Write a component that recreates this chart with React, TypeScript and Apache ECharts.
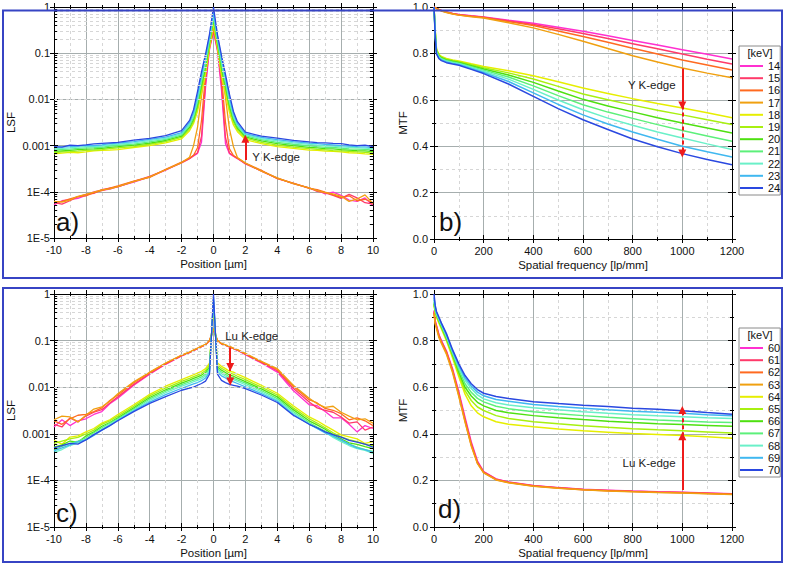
import { useEffect, useRef } from 'react';
import * as echarts from 'echarts';

// ---------- categories / energies ----------
const ENERGY_Y = ['14', '15', '16', '17', '18', '19', '20', '21', '22', '23', '24'];
const ENERGY_LU = ['60', '61', '62', '63', '64', '65', '66', '67', '68', '69', '70'];
const COLORS = ['#ff30d0', '#ff3a6a', '#ff6a20', '#f0a010', '#e6ee00', '#a8f010', '#4ee010', '#5cf07a', '#6af0c8', '#40b8f0', '#2a48e0'];

// ---------- LSF positions [µm] ----------
const LSF_X = [-10, -9.5, -9, -8.5, -8, -7.5, -7, -6.5, -6, -5, -4, -3, -2, -1.5, -1.25, -1, -0.75, -0.5, -0.25, 0, 0.25, 0.5, 0.75, 1, 1.25, 1.5, 2, 3, 4, 5, 6, 6.5, 7, 7.5, 8, 8.5, 9, 9.5, 10];

// ---------- panel a: LSF, Y K-edge ----------
const a14 = [5.2e-5, 6.4e-5, 6.8e-5, 7.2e-5, 8.4e-5, 1.0e-4, 1.08e-4, 1.14e-4, 1.3e-4, 1.62e-4, 2.1e-4, 2.95e-4, 4.3e-4, 5.3e-4, 6.0e-4, 6.8e-4, 1.2e-3, 0.018, 0.12, 0.3, 0.11, 0.016, 1.1e-3, 6.7e-4, 5.9e-4, 5.2e-4, 4.1e-4, 2.8e-4, 1.95e-4, 1.52e-4, 1.2e-4, 1.08e-4, 9.0e-5, 9.8e-5, 8.4e-5, 6.6e-5, 6.2e-5, 7.4e-5, 5.0e-5];
const a15 = [5.8e-5, 5.4e-5, 6.4e-5, 7.8e-5, 8.8e-5, 9.2e-5, 1.12e-4, 1.2e-4, 1.28e-4, 1.68e-4, 2.15e-4, 3.0e-4, 4.2e-4, 5.2e-4, 6.1e-4, 7.0e-4, 1.6e-3, 0.024, 0.13, 0.3, 0.12, 0.022, 1.5e-3, 6.9e-4, 6.0e-4, 5.3e-4, 4.0e-4, 2.85e-4, 1.98e-4, 1.5e-4, 1.22e-4, 1.02e-4, 9.5e-5, 8.4e-5, 7.2e-5, 8.8e-5, 7.4e-5, 5.8e-5, 5.4e-5];
const a16 = [6.0e-5, 6.2e-5, 7.0e-5, 7.9e-5, 8.2e-5, 9.6e-5, 1.06e-4, 1.2e-4, 1.34e-4, 1.7e-4, 2.05e-4, 3.05e-4, 4.4e-4, 5.4e-4, 6.2e-4, 9.0e-4, 3.5e-3, 0.035, 0.14, 0.32, 0.14, 0.033, 3.2e-3, 8.5e-4, 6.1e-4, 5.4e-4, 4.2e-4, 2.9e-4, 1.92e-4, 1.55e-4, 1.18e-4, 1.12e-4, 9.8e-5, 8.6e-5, 7.6e-5, 8.2e-5, 6.4e-5, 6.9e-5, 5.8e-5];
const a17 = [6.2e-5, 6.0e-5, 6.6e-5, 8.0e-5, 8.8e-5, 9.8e-5, 1.1e-4, 1.16e-4, 1.3e-4, 1.66e-4, 2.1e-4, 3.0e-4, 4.3e-4, 5.6e-4, 1.0e-3, 2.5e-3, 0.012, 0.05, 0.16, 0.35, 0.15, 0.048, 0.011, 2.3e-3, 9.5e-4, 5.5e-4, 4.2e-4, 2.8e-4, 2.0e-4, 1.5e-4, 1.22e-4, 1.06e-4, 9.6e-5, 9.0e-5, 8.0e-5, 6.2e-5, 7.0e-5, 8.6e-5, 5.6e-5];
const a18 = [6.6e-4, 6.9e-4, 7.1e-4, 7.0e-4, 7.3e-4, 7.7e-4, 7.9e-4, 8.0e-4, 8.2e-4, 9.1e-4, 1.0e-3, 1.15e-3, 1.4e-3, 2.1e-3, 3.0e-3, 5.5e-3, 0.014, 0.035, 0.13, 0.45, 0.13, 0.033, 0.013, 5.2e-3, 2.8e-3, 2.0e-3, 1.35e-3, 1.1e-3, 9.5e-4, 8.7e-4, 8.0e-4, 7.9e-4, 7.6e-4, 7.5e-4, 7.3e-4, 7.0e-4, 6.9e-4, 6.6e-4, 6.5e-4];
const a19 = [7.0e-4, 7.3e-4, 7.4e-4, 7.6e-4, 7.9e-4, 8.0e-4, 8.2e-4, 8.6e-4, 8.9e-4, 9.5e-4, 1.07e-3, 1.22e-3, 1.5e-3, 2.3e-3, 3.3e-3, 6.5e-3, 0.017, 0.042, 0.15, 0.5, 0.15, 0.04, 0.016, 6.2e-3, 3.2e-3, 2.2e-3, 1.45e-3, 1.18e-3, 1.02e-3, 9.3e-4, 8.6e-4, 8.3e-4, 8.1e-4, 7.8e-4, 7.7e-4, 7.5e-4, 7.3e-4, 7.1e-4, 6.9e-4];
const a20 = [7.5e-4, 7.7e-4, 7.9e-4, 8.2e-4, 8.4e-4, 8.5e-4, 8.7e-4, 9.2e-4, 9.5e-4, 1.02e-3, 1.13e-3, 1.29e-3, 1.6e-3, 2.5e-3, 3.7e-3, 7.5e-3, 0.02, 0.05, 0.17, 0.55, 0.17, 0.048, 0.019, 7.2e-3, 3.6e-3, 2.4e-3, 1.55e-3, 1.26e-3, 1.1e-3, 1.0e-3, 9.2e-4, 8.9e-4, 8.6e-4, 8.5e-4, 8.2e-4, 8.0e-4, 7.8e-4, 7.7e-4, 7.4e-4];
const a21 = [8.0e-4, 8.3e-4, 8.4e-4, 8.7e-4, 8.9e-4, 9.0e-4, 9.2e-4, 9.8e-4, 1.01e-3, 1.08e-3, 1.2e-3, 1.36e-3, 1.7e-3, 2.7e-3, 4.1e-3, 8.8e-3, 0.024, 0.06, 0.19, 0.6, 0.19, 0.057, 0.022, 8.4e-3, 4.0e-3, 2.6e-3, 1.65e-3, 1.34e-3, 1.18e-3, 1.07e-3, 9.9e-4, 9.5e-4, 9.2e-4, 9.1e-4, 8.8e-4, 8.5e-4, 8.4e-4, 8.3e-4, 8.0e-4];
const a22 = [8.5e-4, 8.7e-4, 8.9e-4, 9.3e-4, 9.5e-4, 9.5e-4, 9.8e-4, 1.04e-3, 1.07e-3, 1.15e-3, 1.28e-3, 1.44e-3, 1.8e-3, 2.9e-3, 4.6e-3, 0.01, 0.028, 0.07, 0.21, 0.66, 0.21, 0.067, 0.026, 9.6e-3, 4.4e-3, 2.8e-3, 1.72e-3, 1.42e-3, 1.26e-3, 1.14e-3, 1.06e-3, 1.02e-3, 9.9e-4, 9.7e-4, 9.4e-4, 9.2e-4, 9.0e-4, 8.8e-4, 8.6e-4];
const a23 = [9.0e-4, 9.4e-4, 9.5e-4, 9.8e-4, 1.01e-3, 1.0e-3, 1.04e-3, 1.1e-3, 1.13e-3, 1.22e-3, 1.36e-3, 1.52e-3, 1.9e-3, 3.2e-3, 5.2e-3, 0.012, 0.033, 0.08, 0.23, 0.74, 0.23, 0.077, 0.03, 0.011, 4.9e-3, 3.0e-3, 1.82e-3, 1.5e-3, 1.35e-3, 1.22e-3, 1.13e-3, 1.1e-3, 1.06e-3, 1.04e-3, 1.0e-3, 9.8e-4, 9.5e-4, 9.4e-4, 9.1e-4];
const a24 = [9.5e-4, 9.3e-4, 1.02e-3, 1.0e-3, 1.04e-3, 1.09e-3, 1.12e-3, 1.15e-3, 1.18e-3, 1.32e-3, 1.44e-3, 1.64e-3, 2.1e-3, 3.5e-3, 6.0e-3, 0.015, 0.04, 0.095, 0.26, 1.0, 0.25, 0.09, 0.035, 0.013, 5.5e-3, 3.3e-3, 1.95e-3, 1.6e-3, 1.45e-3, 1.3e-3, 1.2e-3, 1.16e-3, 1.15e-3, 1.12e-3, 1.1e-3, 1.04e-3, 1.0e-3, 1.02e-3, 9.5e-4];

// ---------- panel c: LSF, Lu K-edge ----------
const c60 = [1.4e-3, 2.0e-3, 1.5e-3, 1.9e-3, 2.1e-3, 2.6e-3, 3.0e-3, 4.4e-3, 5.8e-3, 0.011, 0.019, 0.031, 0.047, 0.055, 0.061, 0.067, 0.074, 0.081, 0.098, 0.17, 0.098, 0.085, 0.079, 0.073, 0.067, 0.062, 0.05, 0.033, 0.021, 8.5e-3, 4.2e-3, 4.0e-3, 3.0e-3, 2.2e-3, 2.2e-3, 1.6e-3, 1.1e-3, 1.5e-3, 1.3e-3];
const c61 = [1.6e-3, 1.4e-3, 2.2e-3, 1.8e-3, 2.4e-3, 2.9e-3, 3.3e-3, 4.6e-3, 6.2e-3, 0.0115, 0.0195, 0.0315, 0.0475, 0.0555, 0.0615, 0.0675, 0.0745, 0.0815, 0.099, 0.17, 0.099, 0.0855, 0.0795, 0.0735, 0.0675, 0.0625, 0.051, 0.034, 0.0225, 9.5e-3, 4.8e-3, 3.6e-3, 3.2e-3, 2.9e-3, 2.3e-3, 1.7e-3, 1.8e-3, 1.2e-3, 1.4e-3];
const c62 = [1.9e-3, 1.6e-3, 2.1e-3, 2.5e-3, 2.6e-3, 3.0e-3, 3.6e-3, 5.2e-3, 6.8e-3, 0.0125, 0.0205, 0.0325, 0.048, 0.056, 0.062, 0.068, 0.075, 0.082, 0.1, 0.18, 0.1, 0.086, 0.08, 0.074, 0.068, 0.063, 0.052, 0.035, 0.024, 0.0105, 5.4e-3, 4.6e-3, 3.5e-3, 3.2e-3, 2.7e-3, 2.0e-3, 2.2e-3, 1.9e-3, 1.5e-3];
const c63 = [2.0e-3, 2.4e-3, 2.3e-3, 1.8e-3, 2.5e-3, 3.4e-3, 3.8e-3, 5.0e-3, 7.2e-3, 0.013, 0.021, 0.033, 0.049, 0.057, 0.063, 0.069, 0.076, 0.083, 0.101, 0.18, 0.101, 0.087, 0.081, 0.075, 0.069, 0.064, 0.053, 0.036, 0.025, 0.011, 5.8e-3, 4.4e-3, 3.7e-3, 3.9e-3, 2.9e-3, 2.4e-3, 2.0e-3, 2.1e-3, 1.7e-3];
const c64 = [7.2e-4, 6.0e-4, 8.5e-4, 9.0e-4, 1.1e-3, 1.3e-3, 1.7e-3, 2.0e-3, 2.6e-3, 4.2e-3, 7.0e-3, 0.0105, 0.0145, 0.017, 0.0185, 0.02, 0.022, 0.025, 0.033, 0.55, 0.033, 0.028, 0.025, 0.022, 0.021, 0.019, 0.016, 0.011, 7.4e-3, 4.0e-3, 2.3e-3, 1.9e-3, 1.5e-3, 1.2e-3, 9.5e-4, 8.6e-4, 7.8e-4, 6.2e-4, 6.8e-4];
const c65 = [6.2e-4, 7.0e-4, 7.8e-4, 8.4e-4, 1.0e-3, 1.2e-3, 1.6e-3, 1.9e-3, 2.4e-3, 3.9e-3, 6.5e-3, 9.6e-3, 0.0133, 0.0155, 0.0168, 0.0182, 0.02, 0.0228, 0.03, 0.6, 0.03, 0.0255, 0.0228, 0.02, 0.019, 0.0172, 0.0145, 0.01, 6.8e-3, 3.6e-3, 2.1e-3, 1.7e-3, 1.35e-3, 1.05e-3, 8.6e-4, 7.5e-4, 6.8e-4, 5.9e-4, 5.6e-4];
const c66 = [5.2e-4, 5.8e-4, 7.0e-4, 6.6e-4, 9.0e-4, 1.1e-3, 1.45e-3, 1.75e-3, 2.2e-3, 3.6e-3, 6.0e-3, 8.8e-3, 0.0122, 0.0142, 0.0154, 0.0166, 0.0182, 0.0207, 0.027, 0.65, 0.027, 0.0232, 0.0207, 0.0182, 0.0172, 0.0157, 0.0132, 9.2e-3, 6.2e-3, 3.3e-3, 1.9e-3, 1.55e-3, 1.25e-3, 9.6e-4, 7.8e-4, 6.4e-4, 5.9e-4, 5.3e-4, 4.8e-4];
const c67 = [4.4e-4, 5.4e-4, 6.2e-4, 7.0e-4, 8.2e-4, 1.05e-3, 1.35e-3, 1.7e-3, 2.1e-3, 3.4e-3, 5.6e-3, 8.2e-3, 0.0113, 0.0131, 0.0142, 0.0152, 0.0166, 0.0189, 0.025, 0.7, 0.025, 0.0212, 0.0189, 0.0166, 0.0157, 0.0144, 0.0122, 8.5e-3, 5.7e-3, 3.0e-3, 1.75e-3, 1.4e-3, 1.15e-3, 8.8e-4, 7.2e-4, 6.0e-4, 5.2e-4, 4.6e-4, 4.2e-4];
const c68 = [4.0e-4, 4.6e-4, 5.6e-4, 6.4e-4, 7.6e-4, 9.6e-4, 1.25e-3, 1.6e-3, 2.0e-3, 3.2e-3, 5.2e-3, 7.6e-3, 0.0105, 0.0121, 0.0131, 0.014, 0.0153, 0.0174, 0.023, 0.75, 0.023, 0.0195, 0.0174, 0.0153, 0.0145, 0.0133, 0.0113, 7.9e-3, 5.3e-3, 2.8e-3, 1.65e-3, 1.3e-3, 1.08e-3, 8.4e-4, 6.8e-4, 5.6e-4, 4.8e-4, 4.4e-4, 3.8e-4];
const c69 = [4.3e-4, 5.0e-4, 5.8e-4, 6.8e-4, 7.4e-4, 9.2e-4, 1.2e-3, 1.5e-3, 1.95e-3, 3.1e-3, 4.8e-3, 6.9e-3, 9.5e-3, 0.011, 0.0118, 0.0126, 0.0138, 0.0157, 0.021, 0.85, 0.021, 0.0175, 0.0158, 0.0138, 0.013, 0.012, 0.0102, 7.3e-3, 5.0e-3, 2.6e-3, 1.6e-3, 1.3e-3, 1.05e-3, 9.0e-4, 7.4e-4, 6.0e-4, 5.0e-4, 4.6e-4, 4.0e-4];
const c70 = [5.0e-4, 5.6e-4, 6.2e-4, 6.0e-4, 7.4e-4, 9.6e-4, 1.2e-3, 1.5e-3, 1.9e-3, 3.0e-3, 4.5e-3, 6.3e-3, 8.6e-3, 9.5e-3, 0.01, 0.011, 0.012, 0.0135, 0.019, 1.0, 0.019, 0.014, 0.0125, 0.0115, 0.011, 0.0105, 9.3e-3, 6.8e-3, 4.7e-3, 2.5e-3, 1.6e-3, 1.35e-3, 1.1e-3, 9.6e-4, 8.5e-4, 7.2e-4, 6.6e-4, 6.0e-4, 5.2e-4];

// ---------- panel b: MTF, Y K-edge ----------
const MTF_B_X = [0, 5, 10, 20, 30, 50, 75, 100, 150, 200, 300, 400, 500, 600, 700, 800, 900, 1000, 1100, 1200];
const b14 = [1.0, 0.997, 0.994, 0.989, 0.985, 0.978, 0.972, 0.968, 0.962, 0.957, 0.943, 0.93, 0.913, 0.895, 0.876, 0.856, 0.836, 0.816, 0.796, 0.776];
const b15 = [1.0, 0.997, 0.994, 0.989, 0.985, 0.978, 0.972, 0.967, 0.961, 0.956, 0.94, 0.925, 0.906, 0.886, 0.864, 0.842, 0.82, 0.797, 0.775, 0.754];
const b16 = [1.0, 0.997, 0.993, 0.988, 0.984, 0.977, 0.971, 0.966, 0.96, 0.955, 0.937, 0.92, 0.897, 0.873, 0.848, 0.822, 0.797, 0.772, 0.75, 0.728];
const b17 = [1.0, 0.996, 0.993, 0.988, 0.983, 0.976, 0.97, 0.965, 0.958, 0.953, 0.932, 0.91, 0.882, 0.852, 0.821, 0.79, 0.763, 0.737, 0.715, 0.695];
const b18 = [1.0, 0.9, 0.82, 0.795, 0.787, 0.778, 0.772, 0.767, 0.755, 0.744, 0.725, 0.704, 0.678, 0.651, 0.627, 0.605, 0.584, 0.565, 0.544, 0.523];
const b19 = [1.0, 0.895, 0.815, 0.792, 0.784, 0.775, 0.769, 0.764, 0.751, 0.738, 0.716, 0.69, 0.658, 0.625, 0.6, 0.577, 0.555, 0.535, 0.514, 0.494];
const b20 = [1.0, 0.89, 0.812, 0.789, 0.781, 0.772, 0.766, 0.761, 0.747, 0.733, 0.707, 0.675, 0.638, 0.602, 0.573, 0.548, 0.523, 0.5, 0.478, 0.457];
const b21 = [1.0, 0.885, 0.808, 0.786, 0.778, 0.769, 0.763, 0.758, 0.743, 0.728, 0.698, 0.66, 0.618, 0.579, 0.547, 0.52, 0.493, 0.468, 0.444, 0.421];
const b22 = [1.0, 0.88, 0.805, 0.783, 0.775, 0.766, 0.76, 0.755, 0.739, 0.723, 0.689, 0.645, 0.599, 0.557, 0.521, 0.49, 0.461, 0.435, 0.41, 0.386];
const b23 = [1.0, 0.875, 0.801, 0.78, 0.772, 0.763, 0.757, 0.752, 0.735, 0.718, 0.679, 0.63, 0.58, 0.535, 0.496, 0.461, 0.43, 0.4, 0.376, 0.353];
const b24 = [1.0, 0.87, 0.798, 0.777, 0.769, 0.76, 0.754, 0.749, 0.731, 0.713, 0.668, 0.615, 0.562, 0.514, 0.472, 0.431, 0.398, 0.368, 0.343, 0.32];

// ---------- panel d: MTF, Lu K-edge ----------
const MTF_D_X = [0, 5, 10, 20, 30, 50, 75, 100, 125, 150, 175, 200, 250, 300, 400, 500, 600, 700, 800, 900, 1000, 1100, 1200];
const d60 = [0.93, 0.885, 0.865, 0.825, 0.8, 0.755, 0.678, 0.58, 0.47, 0.365, 0.283, 0.238, 0.206, 0.193, 0.178, 0.169, 0.162, 0.158, 0.154, 0.151, 0.149, 0.146, 0.143];
const d61 = [0.925, 0.88, 0.862, 0.822, 0.797, 0.752, 0.672, 0.572, 0.462, 0.358, 0.278, 0.236, 0.205, 0.192, 0.177, 0.168, 0.161, 0.157, 0.153, 0.15, 0.148, 0.145, 0.142];
const d62 = [0.92, 0.875, 0.858, 0.818, 0.793, 0.748, 0.668, 0.565, 0.455, 0.352, 0.274, 0.233, 0.203, 0.191, 0.176, 0.167, 0.16, 0.156, 0.152, 0.149, 0.147, 0.144, 0.141];
const d63 = [0.915, 0.87, 0.852, 0.812, 0.788, 0.742, 0.662, 0.56, 0.45, 0.348, 0.272, 0.232, 0.202, 0.19, 0.175, 0.166, 0.16, 0.155, 0.151, 0.148, 0.146, 0.143, 0.14];
const d64 = [0.95, 0.92, 0.9, 0.875, 0.85, 0.8, 0.725, 0.645, 0.57, 0.52, 0.49, 0.473, 0.452, 0.441, 0.43, 0.421, 0.413, 0.407, 0.401, 0.397, 0.393, 0.387, 0.381];
const d65 = [0.955, 0.925, 0.905, 0.88, 0.856, 0.806, 0.733, 0.655, 0.585, 0.543, 0.515, 0.5, 0.478, 0.466, 0.452, 0.443, 0.435, 0.428, 0.422, 0.417, 0.413, 0.408, 0.403];
const d66 = [0.96, 0.93, 0.91, 0.884, 0.86, 0.81, 0.74, 0.665, 0.6, 0.562, 0.535, 0.52, 0.5, 0.49, 0.478, 0.469, 0.461, 0.454, 0.448, 0.443, 0.44, 0.436, 0.432];
const d67 = [0.965, 0.935, 0.913, 0.888, 0.864, 0.815, 0.745, 0.675, 0.615, 0.578, 0.552, 0.537, 0.518, 0.508, 0.495, 0.486, 0.478, 0.471, 0.465, 0.459, 0.455, 0.451, 0.448];
const d68 = [0.975, 0.94, 0.917, 0.892, 0.868, 0.82, 0.75, 0.685, 0.63, 0.594, 0.567, 0.55, 0.533, 0.524, 0.512, 0.503, 0.495, 0.488, 0.482, 0.477, 0.473, 0.469, 0.466];
const d69 = [0.985, 0.945, 0.921, 0.896, 0.871, 0.825, 0.755, 0.692, 0.64, 0.605, 0.579, 0.563, 0.547, 0.54, 0.526, 0.517, 0.51, 0.503, 0.497, 0.492, 0.488, 0.482, 0.477];
const d70 = [1.0, 0.95, 0.925, 0.9, 0.875, 0.83, 0.76, 0.7, 0.65, 0.615, 0.59, 0.574, 0.56, 0.552, 0.538, 0.53, 0.523, 0.517, 0.51, 0.505, 0.499, 0.491, 0.484];

// ---------- tick labels ----------
const LOG_TICK_LABELS: Record<string, string> = { '0': '1', '-1': '0.1', '-2': '0.01', '-3': '0.001', '-4': '1E-4', '-5': '1E-5' };

const FONT = '"Liberation Sans", Arial, Helvetica, sans-serif';
const RED = '#ee1b1b';

const GRIDS = [
  { left: 54, top: 7, width: 319, height: 231 },
  { left: 434, top: 7, width: 298, height: 232 },
  { left: 54, top: 294, width: 319, height: 233 },
  { left: 434, top: 294, width: 298, height: 233 },
];

type AxisBase = { type: 'value' | 'log'; min: number; max: number; interval?: number; minorSplit?: number; name: string; fmt: (v: number) => string; nameGap: number; labelMargin: number };

function makeAxes(dim: 'x' | 'y', gridIndex: number, base: AxisBase) {
  const pos = dim === 'x' ? ['bottom', 'top'] : ['left', 'right'];
  const isLog = base.type === 'log';
  const mk = (position: string, inside: boolean, main: boolean) => {
    const ax: any = {
      type: base.type,
      gridIndex,
      position,
      min: base.min,
      max: base.max,
      axisLine: { show: true, onZero: false, lineStyle: { color: '#000', width: 1 } },
      axisTick: { show: true, inside, length: 4, lineStyle: { color: '#000', width: 1 } },
      minorTick: isLog ? { show: false } : { show: true, splitNumber: base.minorSplit, length: 2, lineStyle: { color: '#000', width: 1 } },
      axisLabel: main
        ? { show: true, formatter: base.fmt, fontSize: 11, fontFamily: FONT, color: '#111', margin: base.labelMargin }
        : { show: false },
      splitLine: { show: main, lineStyle: { color: '#a6aeae', width: 1 } },
      minorSplitLine: { show: main && !isLog, lineStyle: { color: '#d6d6d6', width: 1, type: [3, 3] } },
      silent: true,
    };
    if (isLog) {
      ax.logBase = 10;
      ax.splitNumber = 5;
    } else {
      ax.interval = base.interval;
    }
    if (main) {
      ax.name = base.name;
      ax.nameLocation = 'middle';
      ax.nameGap = base.nameGap;
      ax.nameTextStyle = { fontSize: 11.5, fontFamily: FONT, color: '#111' };
    }
    return ax;
  };
  return [mk(pos[0], false, true), mk(pos[0], true, false), mk(pos[1], false, false), mk(pos[1], true, false)];
}

const logFmt = (v: number) => LOG_TICK_LABELS[String(Math.round(Math.log10(v)))] ?? '';
const posFmt = (v: number) => String(Math.round(v));
const freqFmt = (v: number) => String(Math.round(v));
const mtfFmt = (v: number) => v.toFixed(1);

function curveSeries(panel: number, names: string[], xs: number[], ys: number[][], width: number) {
  return names.map((n, i) => ({
    name: n,
    type: 'line',
    xAxisIndex: 4 * panel,
    yAxisIndex: 4 * panel,
    data: xs.map((x, j) => [x, ys[i][j]]),
    showSymbol: false,
    symbol: 'none',
    z: 2,
    silent: true,
    lineStyle: { color: COLORS[i], width },
    itemStyle: { color: COLORS[i] },
    emphasis: { disabled: true },
  }));
}

function logMinorSeries(panel: number) {
  const levels: number[] = [];
  for (let d = -5; d < 0; d++) for (let k = 2; k <= 9; k++) levels.push(k * Math.pow(10, d));
  const tickStyle = { color: '#000', type: 'solid', width: 1 };
  const ticks: any[] = [];
  levels.forEach((v) => {
    ticks.push([{ coord: [-10, v], lineStyle: tickStyle }, { coord: [-9.8, v] }]);
    ticks.push([{ coord: [9.8, v], lineStyle: tickStyle }, { coord: [10, v] }]);
  });
  return {
    type: 'line',
    xAxisIndex: 4 * panel,
    yAxisIndex: 4 * panel,
    data: [],
    symbol: 'none',
    silent: true,
    z: 1,
    markLine: {
      silent: true,
      animation: false,
      symbol: ['none', 'none'],
      label: { show: false },
      emphasis: { disabled: true },
      lineStyle: { color: '#d6d6d6', type: [3, 3], width: 1 },
      data: [...levels.map((v) => ({ yAxis: v })), ...ticks],
    },
  };
}

function annotationSeries(panel: number, segments: { from: number[]; to: number[]; dashed: boolean }[], text: string, at: number[], side: 'left' | 'right') {
  return {
    type: 'line',
    xAxisIndex: 4 * panel,
    yAxisIndex: 4 * panel,
    data: [],
    symbol: 'none',
    silent: true,
    z: 6,
    markLine: {
      silent: true,
      animation: false,
      symbol: ['none', 'triangle'],
      symbolSize: 8,
      label: { show: false },
      emphasis: { disabled: true },
      lineStyle: { color: RED, width: 2, type: 'solid' },
      data: segments.map((s) => [
        { coord: s.from, lineStyle: { color: RED, width: 2, type: s.dashed ? [4, 3] : 'solid' }, itemStyle: { color: RED } },
        { coord: s.to },
      ]),
    },
    markPoint: {
      silent: true,
      animation: false,
      symbol: 'circle',
      symbolSize: 1,
      itemStyle: { color: 'rgba(0,0,0,0)' },
      label: { show: true, position: side, distance: 0, formatter: text, fontSize: 11.5, fontFamily: FONT, color: '#222' },
      data: [{ coord: at, value: 0 }],
    },
  };
}

function legendFor(names: string[], top: number) {
  return {
    data: names,
    orient: 'vertical',
    left: 739,
    top,
    icon: 'rect',
    itemWidth: 23,
    itemHeight: 2,
    itemGap: 0.2,
    padding: [14, 0, 1, 1],
    borderColor: '#8a8a8a',
    borderWidth: 1,
    backgroundColor: '#fff',
    selectedMode: false,
    textStyle: { fontSize: 11, lineHeight: 12, fontFamily: FONT, color: '#111' },
  };
}

function buildOption() {
  const posAxis: AxisBase = { type: 'value', min: -10, max: 10, interval: 2, minorSplit: 2, name: 'Position [µm]', fmt: posFmt, nameGap: 20, labelMargin: 6 };
  const lsfAxis: AxisBase = { type: 'log', min: 1e-5, max: 1, name: 'LSF', fmt: logFmt, nameGap: 37, labelMargin: 4 };
  const freqAxis: AxisBase = { type: 'value', min: 0, max: 1200, interval: 200, minorSplit: 2, name: 'Spatial frequency [lp/mm]', fmt: freqFmt, nameGap: 20, labelMargin: 6 };
  const mtfAxis: AxisBase = { type: 'value', min: 0, max: 1, interval: 0.2, minorSplit: 2, name: 'MTF', fmt: mtfFmt, nameGap: 23, labelMargin: 6 };

  const xAxis = [...makeAxes('x', 0, posAxis), ...makeAxes('x', 1, freqAxis), ...makeAxes('x', 2, posAxis), ...makeAxes('x', 3, freqAxis)];
  const yAxis = [...makeAxes('y', 0, lsfAxis), ...makeAxes('y', 1, mtfAxis), ...makeAxes('y', 2, lsfAxis), ...makeAxes('y', 3, mtfAxis)];

  const series: any[] = [
    logMinorSeries(0),
    logMinorSeries(2),
    ...curveSeries(0, ENERGY_Y.map((e) => `${e} keV LSF`), LSF_X, [a14, a15, a16, a17, a18, a19, a20, a21, a22, a23, a24], 1.3),
    ...curveSeries(1, ENERGY_Y, MTF_B_X, [b14, b15, b16, b17, b18, b19, b20, b21, b22, b23, b24], 1.5),
    ...curveSeries(2, ENERGY_LU.map((e) => `${e} keV LSF`), LSF_X, [c60, c61, c62, c63, c64, c65, c66, c67, c68, c69, c70], 1.3),
    ...curveSeries(3, ENERGY_LU, MTF_D_X, [d60, d61, d62, d63, d64, d65, d66, d67, d68, d69, d70], 1.5),
    annotationSeries(0, [{ from: [2, 4.9e-4], to: [2, 1.4e-3], dashed: false }], 'Y K-edge', [2.4, 5.8e-4], 'right'),
    annotationSeries(1, [
      { from: [1000, 0.735], to: [1000, 0.575], dashed: false },
      { from: [1000, 0.575], to: [1000, 0.368], dashed: true },
    ], 'Y K-edge', [975, 0.665], 'left'),
    annotationSeries(2, [
      { from: [1.05, 0.07], to: [1.05, 0.027], dashed: false },
      { from: [1.05, 0.027], to: [1.05, 0.0132], dashed: true },
    ], 'Lu K-edge', [0.7, 0.126], 'right'),
    annotationSeries(3, [
      { from: [1000, 0.159], to: [1000, 0.39], dashed: false },
      { from: [1000, 0.39], to: [1000, 0.502], dashed: true },
    ], 'Lu K-edge', [975, 0.273], 'left'),
  ];

  const panelLabel = (txt: string, x: number, y: number) => ({
    type: 'text',
    left: x,
    top: y,
    z: 50,
    silent: true,
    style: { text: txt, font: `26px ${FONT}`, fill: '#111' },
  });
  const frame = (y: number, h: number) => ({
    type: 'rect',
    z: 100,
    silent: true,
    shape: { x: 3, y, width: 779, height: h },
    style: { fill: 'none', stroke: '#3744c4', lineWidth: 2 },
  });
  const header = (y: number) => ({
    type: 'text',
    z: 100,
    silent: true,
    x: 760,
    y,
    style: { text: '[keV]', font: `11px ${FONT}`, fill: '#111', textAlign: 'center', textVerticalAlign: 'middle' },
  });

  return {
    animation: false,
    backgroundColor: '#fff',
    grid: GRIDS.map((g) => ({ ...g, containLabel: false })),
    xAxis,
    yAxis,
    legend: [legendFor(ENERGY_Y, 46), legendFor(ENERGY_LU, 328)],
    series,
    graphic: [
      frame(10.5, 267.5),
      frame(288, 274),
      panelLabel('a)', 56, 209),
      panelLabel('b)', 439, 209),
      panelLabel('c)', 56, 500),
      panelLabel('d)', 438, 496),
      header(53),
      header(335),
    ],
  };
}

export default function App() {
  const ref = useRef<HTMLDivElement>(null);
  useEffect(() => {
    if (!ref.current) return;
    const chart = echarts.init(ref.current, null, { renderer: 'svg' });
    chart.setOption(buildOption() as any);
    return () => chart.dispose();
  }, []);
  return <div ref={ref} style={{ position: 'fixed', left: 0, top: 0, width: 786, height: 564, background: '#fff' }} />;
}
